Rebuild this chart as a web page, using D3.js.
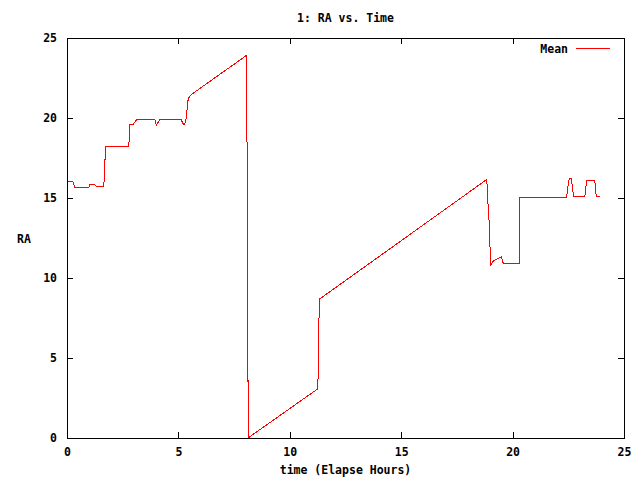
<!DOCTYPE html>
<html>
<head>
<meta charset="utf-8">
<script src="https://cdn.jsdelivr.net/npm/d3@7"></script>
<style>
  body { margin: 0; background: #fff; }
  text { font-family: "DejaVu Sans Mono", monospace; font-weight: bold; font-size: 11.5px; fill: #000; }
</style>
</head>
<body>
<svg id="chart"></svg>
<script>
const width = 640;
const height = 480;

// elapsed hours and RA mean
const hours = [0, 0.24, 0.33, 0.96, 1.0, 1.23, 1.30, 1.63, 1.65, 1.71, 2.75, 2.80, 2.96, 2.99, 3.10,
  3.92, 3.99, 4.14, 5.10, 5.22, 5.30, 5.34, 5.42, 5.60, 8.03, 8.06, 8.09, 8.12,
  11.23, 11.26, 11.28, 11.33, 18.82, 18.84, 18.88, 18.94, 18.97, 19.0, 19.13, 19.47, 19.52, 19.57,
  20.27, 20.28, 20.30, 22.40, 22.45, 22.48, 22.52, 22.62, 22.67, 22.72, 23.22, 23.26, 23.30,
  23.67, 23.70, 23.73, 23.89];
const raMean = [16.06, 16.06, 15.67, 15.67, 15.86, 15.86, 15.73, 15.73, 16.4, 18.25, 18.25, 19.6, 19.6, 19.73, 19.92,
  19.92, 19.6, 19.92, 19.92, 19.6, 19.8, 20.2, 21.27, 21.54, 23.94, 18.0, 6.0, 0.05,
  3.1, 4.46, 7.27, 8.73, 16.19, 15.6, 14.5, 13.2, 11.64, 10.86, 11.12, 11.36, 11.1, 10.92,
  10.92, 13.0, 15.04, 15.04, 15.6, 15.92, 16.23, 16.23, 15.6, 15.12, 15.12, 15.6, 16.1,
  16.1, 15.6, 15.12, 15.12];

const xTicks = [0, 5, 10, 15, 20, 25];
const yTicks = [0, 5, 10, 15, 20, 25];

const margin = { left: 67, right: 16, top: 38, bottom: 42 };

const svg = d3.select("#chart")
  .attr("width", width)
  .attr("height", height);

svg.append("rect").attr("width", width).attr("height", height).attr("fill", "#fff");

const x = d3.scaleLinear().domain([0, 25]).range([margin.left, width - margin.right]);
const y = d3.scaleLinear().domain([0, 25]).range([height - margin.bottom, margin.top]);

const x0 = x.range()[0], x1 = x.range()[1];
const y0 = y.range()[0], y1 = y.range()[1];

// ticks on all four sides, pointing inward
const tickLen = 6;
const g = svg.append("g").attr("stroke", "#000").attr("stroke-width", 1).attr("shape-rendering", "crispEdges");
xTicks.forEach(t => {
  g.append("line").attr("x1", x(t) + 0.5).attr("x2", x(t) + 0.5).attr("y1", y0).attr("y2", y0 - tickLen);
  g.append("line").attr("x1", x(t) + 0.5).attr("x2", x(t) + 0.5).attr("y1", y1).attr("y2", y1 + tickLen);
});
yTicks.forEach(t => {
  g.append("line").attr("x1", x0).attr("x2", x0 + tickLen).attr("y1", y(t) + 0.5).attr("y2", y(t) + 0.5);
  g.append("line").attr("x1", x1).attr("x2", x1 - tickLen).attr("y1", y(t) + 0.5).attr("y2", y(t) + 0.5);
});

svg.append("rect")
  .attr("x", x0 + 0.5).attr("y", y1 + 0.5)
  .attr("width", x1 - x0).attr("height", y0 - y1)
  .attr("fill", "none").attr("stroke", "#000").attr("stroke-width", 1)
  .attr("shape-rendering", "crispEdges");

// tick labels
svg.selectAll(".xl").data(xTicks).join("text")
  .attr("x", d => x(d) + 0.5).attr("y", y0 + 18)
  .attr("text-anchor", "middle")
  .text(d => d);

svg.selectAll(".yl").data(yTicks).join("text")
  .attr("x", x0 - 10).attr("y", d => y(d) + 4)
  .attr("text-anchor", "end")
  .text(d => d);

// titles
const cx = (x0 + x1) / 2;
svg.append("text").attr("x", cx).attr("y", 22).attr("text-anchor", "middle").text("1: RA vs. Time");
svg.append("text").attr("x", cx).attr("y", 474).attr("text-anchor", "middle").text("time (Elapse Hours)");
svg.append("text").attr("x", 24).attr("y", 243).attr("text-anchor", "middle").text("RA");

// data line
const pts = hours.map((h, i) => [h, raMean[i]]);
const line = d3.line().x(d => x(d[0]) + 0.5).y(d => y(d[1]) + 0.5);
svg.append("path")
  .datum(pts)
  .attr("d", line)
  .attr("fill", "none")
  .attr("stroke", "#f00")
  .attr("stroke-width", 1)
  .attr("shape-rendering", "crispEdges");

// legend
svg.append("text").attr("x", 568).attr("y", 53).attr("text-anchor", "end").text("Mean");
svg.append("line")
  .attr("x1", 576).attr("x2", 610).attr("y1", 48.5).attr("y2", 48.5)
  .attr("stroke", "#f00").attr("stroke-width", 1)
  .attr("shape-rendering", "crispEdges");
</script>
</body>
</html>
